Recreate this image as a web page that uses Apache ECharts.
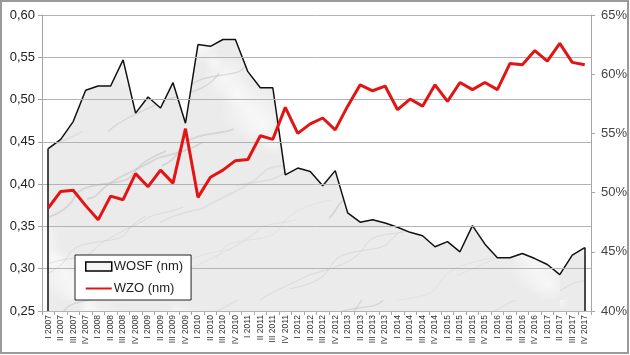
<!DOCTYPE html>
<html><head><meta charset="utf-8">
<script src="https://cdn.jsdelivr.net/npm/echarts@6/dist/echarts.min.js"></script>
<style>html,body{margin:0;padding:0;background:#fff}#c{width:630px;height:355px}</style>
</head><body><div id="c"></div>
<script>
const categories = ['I 2007','II 2007','III 2007','IV 2007','I 2008','II 2008','III 2008','IV 2008','I 2009','II 2009','III 2009','IV 2009','I 2010','II 2010','III 2010','IV 2010','I 2011','II 2011','III 2011','IV 2011','I 2012','II 2012','III 2012','IV 2012','I 2013','II 2013','III 2013','IV 2013','I 2014','II 2014','III 2014','IV 2014','I 2015','II 2015','III 2015','IV 2015','I 2016','II 2016','III 2016','IV 2016','I 2017','II 2017','III 2017','IV 2017'];
const wosf = [0.442,0.453,0.474,0.511,0.516,0.516,0.547,0.484,0.503,0.490,0.520,0.472,0.565,0.563,0.571,0.571,0.533,0.514,0.514,0.411,0.419,0.415,0.398,0.416,0.366,0.355,0.358,0.354,0.349,0.343,0.339,0.326,0.332,0.320,0.351,0.329,0.313,0.313,0.318,0.312,0.305,0.293,0.316,0.325];
const wzo = [48.7,50.1,50.2,48.9,47.7,49.7,49.4,51.6,50.5,51.9,50.8,55.4,49.6,51.3,51.9,52.7,52.8,54.8,54.5,57.2,55.0,55.8,56.3,55.3,57.3,59.1,58.6,59.0,57.0,57.9,57.3,59.1,57.7,59.3,58.7,59.3,58.7,60.9,60.8,62.0,61.1,62.6,61.0,60.8];
const leftTicks = {min:0.25, max:0.60, step:0.05};
const rightTicks = {min:40, max:65, step:5};
const seriesNames = ['WOSF (nm)','WZO (nm)'];

function marble(){
  const W=560, H=300;
  const c=document.createElement('canvas'); c.width=W; c.height=H;
  const g=c.getContext('2d');
  g.fillStyle='#ebebeb'; g.fillRect(0,0,W,H);
  for(let k=0;k<40;k++){
    const x=(k*137)%W, y=(k*71)%H, r=10+(k*13)%22;
    const gr=g.createRadialGradient(x,y,0,x,y,r);
    gr.addColorStop(0,'rgba(250,250,250,0.8)'); gr.addColorStop(1,'rgba(250,250,250,0)');
    g.fillStyle=gr; g.beginPath(); g.arc(x,y,r,0,Math.PI*2); g.fill();
  }
  for(let k=0;k<30;k++){
    g.strokeStyle = (k%2===0)?'rgba(195,195,195,0.55)':'rgba(215,215,215,0.6)';
    g.lineWidth = 0.8+(k%3)*0.5;
    g.beginPath();
    const x0 = (k*53)%W - 100, y0 = (k*97)%H + 40;
    const len = 60+(k*37)%120;
    for(let t=0;t<=len;t+=4){
      const x = x0 + t*1.2 + 5*Math.sin(t*0.13+k);
      const y = y0 - t*0.6 + 4*Math.cos(t*0.09+k*1.7);
      if(t===0) g.moveTo(x,y); else g.lineTo(x,y);
    }
    g.stroke();
  }
  return c;
}

const chart = echarts.init(document.getElementById('c'), null, {renderer:'canvas'});
const font = 'Liberation Sans';
chart.setOption({
  animation:false,
  textStyle:{fontFamily:font},
  grid:{left:42, right:37.5, top:15, bottom:44, containLabel:false},
  graphic:[{type:'rect', silent:true, z:-1, shape:{x:1,y:1,width:627,height:352}, style:{fill:'none', stroke:'#9a9a9a', lineWidth:2}}],
  legend:{
    orient:'vertical', left:75, top:255, width:112, z:10,
    backgroundColor:'#fff', borderColor:'#222', borderWidth:1,
    padding:[5,8,5,10], itemGap:9, itemWidth:26, itemHeight:9,
    textStyle:{fontSize:13, color:'#222', fontFamily:font, padding:[0,0,0,-3]},
    data:[
      {name:seriesNames[0], icon:'rect', itemStyle:{color:'#f4f4f4', borderColor:'#000', borderWidth:1.5}},
      {name:seriesNames[1], icon:'path://M0,4 L26,4 L26,6 L0,6 Z', itemStyle:{color:'#e31414'}}
    ]
  },
  xAxis:{
    type:'category', data:categories, boundaryGap:true,
    axisLine:{lineStyle:{color:'#a6a6a6'}},
    axisTick:{show:true, length:4, lineStyle:{color:'#a6a6a6'}},
    axisLabel:{rotate:90, fontSize:8.5, color:'#333', interval:0, margin:4, fontFamily:font}
  },
  yAxis:[
    {type:'value', min:leftTicks.min, max:leftTicks.max, interval:leftTicks.step, z:3,
     axisLine:{show:true, lineStyle:{color:'#a6a6a6'}},
     axisTick:{show:true, length:4, lineStyle:{color:'#a6a6a6'}},
     splitLine:{show:true, lineStyle:{color:'#b3b3b3', width:1}},
     axisLabel:{fontSize:13, color:'#222', margin:7, formatter:v=>v.toFixed(2).replace('.',','), fontFamily:font}},
    {type:'value', min:rightTicks.min, max:rightTicks.max, interval:rightTicks.step, position:'right',
     axisLine:{show:true, lineStyle:{color:'#a6a6a6'}},
     axisTick:{show:true, length:4, lineStyle:{color:'#a6a6a6'}},
     splitLine:{show:false},
     axisLabel:{fontSize:13, color:'#444', margin:10, formatter:v=>v+'%', fontFamily:font}}
  ],
  series:[
    {name:seriesNames[0], type:'line', yAxisIndex:0, data:wosf, symbol:'none', z:2,
     lineStyle:{color:'#111', width:1.5}, itemStyle:{color:'#111'},
     areaStyle:{origin:'start', color:{image:marble(), repeat:'repeat'}, opacity:1},
     markLine:{symbol:'none', silent:true, animation:false, label:{show:false},
       lineStyle:{color:'#111', width:1.5, type:'solid'},
       data:[
         [{coord:[categories[0], leftTicks.min]},{coord:[categories[0], wosf[0]]}],
         [{coord:[categories[categories.length-1], leftTicks.min]},{coord:[categories[categories.length-1], wosf[wosf.length-1]]}]
       ]}
    },
    {name:seriesNames[1], type:'line', yAxisIndex:1, data:wzo, symbol:'none',
     lineStyle:{color:'#e31414', width:3}, itemStyle:{color:'#e31414'}, z:5}
  ]
});
</script></body></html>
